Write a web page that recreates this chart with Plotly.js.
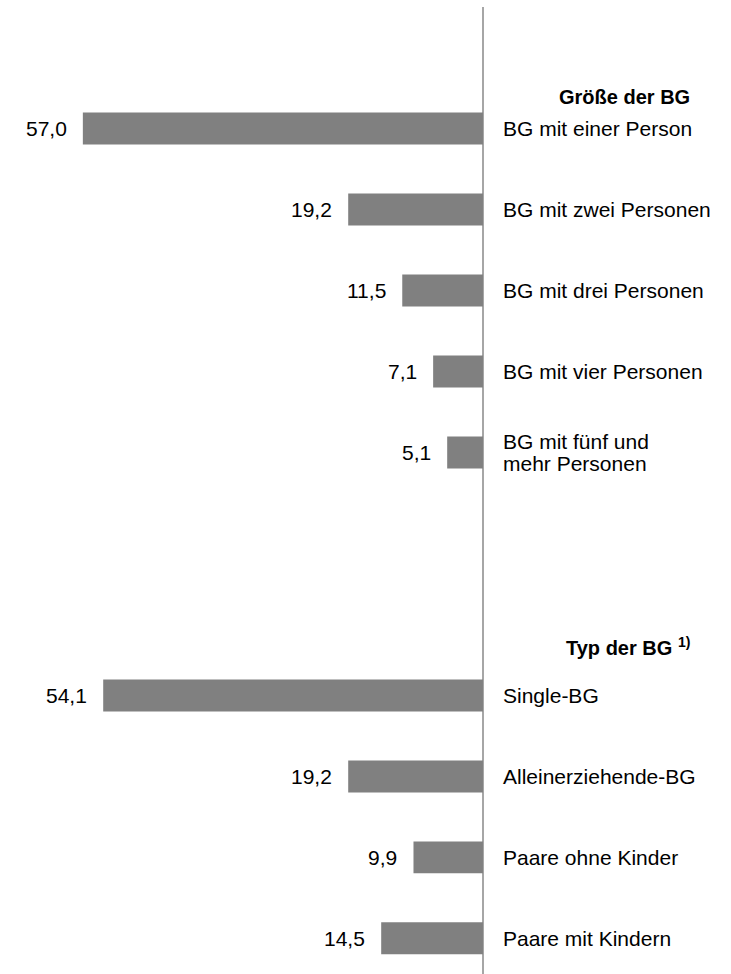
<!DOCTYPE html>
<html>
<head>
<meta charset="utf-8">
<script src="https://cdn.plot.ly/plotly-3.0.1.min.js"></script>
<style>html,body{margin:0;padding:0;background:#fff;}#chart{width:731px;height:974px;}</style>
</head>
<body>
<div id="chart"></div>
<script>
// Data
const groupSizeTitle = "Größe der BG";
const groupSizeLabels = ["BG mit einer Person", "BG mit zwei Personen", "BG mit drei Personen", "BG mit vier Personen", "BG mit fünf und<br>mehr Personen"];
const groupSizeValues = [57.0, 19.2, 11.5, 7.1, 5.1];

const groupTypeTitle = "Typ der BG <sup>1)</sup>";
const groupTypeLabels = ["Single-BG", "Alleinerziehende-BG", "Paare ohne Kinder", "Paare mit Kindern"];
const groupTypeValues = [54.1, 19.2, 9.9, 14.5];

const spacers = [" ", "  "];

// Build combined category list
const cats = [...groupSizeLabels, ...spacers, ...groupTypeLabels];
const vals = [...groupSizeValues, ...spacers.map(() => null), ...groupTypeValues];

const FONT = "Liberation Sans, Arial, sans-serif";

const trace = {
  type: "bar",
  orientation: "h",
  x: vals,
  y: cats,
  width: 0.395,
  marker: { color: "#808080", line: { width: 0 } },
  hoverinfo: "none",
  showlegend: false
};

const annotations = [];
// category labels on the right of the axis
cats.forEach((c, i) => {
  if (vals[i] === null) return;
  const lines = c.split("<br>");
  lines.forEach((ln, j) => {
    annotations.push({
      x: 0, y: c, xref: "x", yref: "y",
      text: ln, showarrow: false,
      xanchor: "left", yanchor: "middle",
      xshift: 18,
      yshift: ((lines.length - 1) / 2 - j) * 22.4,
      font: { family: FONT, size: 21, color: "#000" }
    });
  });
  // value labels
  annotations.push({
    x: vals[i], y: c, xref: "x", yref: "y",
    text: vals[i].toFixed(1).replace(".", ","), showarrow: false,
    xanchor: "right", yanchor: "middle",
    xshift: -14,
    font: { family: FONT, size: 21, color: "#000" }
  });
});
// group headers
annotations.push({
  x: 692 / 731, xref: "paper", y: groupSizeLabels[0], yref: "y",
  text: "<b>" + groupSizeTitle + "</b>", showarrow: false,
  xanchor: "right", yanchor: "middle", yshift: 31,
  font: { family: FONT, size: 20, color: "#000" }
});
annotations.push({
  x: 692 / 731, xref: "paper", y: groupTypeLabels[0], yref: "y",
  text: "<b>" + groupTypeTitle + "</b>", showarrow: false,
  xanchor: "right", yanchor: "middle", yshift: 49,
  font: { family: FONT, size: 20, color: "#000" }
});

const layout = {
  width: 731, height: 974,
  margin: { l: 0, r: 0, t: 7, b: 0 },
  paper_bgcolor: "#fff", plot_bgcolor: "#fff",
  xaxis: {
    range: [68.8, -35.33],
    showticklabels: false, showgrid: false,
    zeroline: true, zerolinecolor: "#a6a6a6", zerolinewidth: 2,
    showline: false, fixedrange: true
  },
  yaxis: {
    type: "category", categoryorder: "array", categoryarray: cats,
    range: [10.44, -1.5],
    showticklabels: false, showgrid: false, zeroline: false,
    showline: false, fixedrange: true
  },
  annotations: annotations,
  font: { family: FONT }
};

Plotly.newPlot("chart", [trace], layout, { displayModeBar: false, staticPlot: true });
</script>
</body>
</html>
